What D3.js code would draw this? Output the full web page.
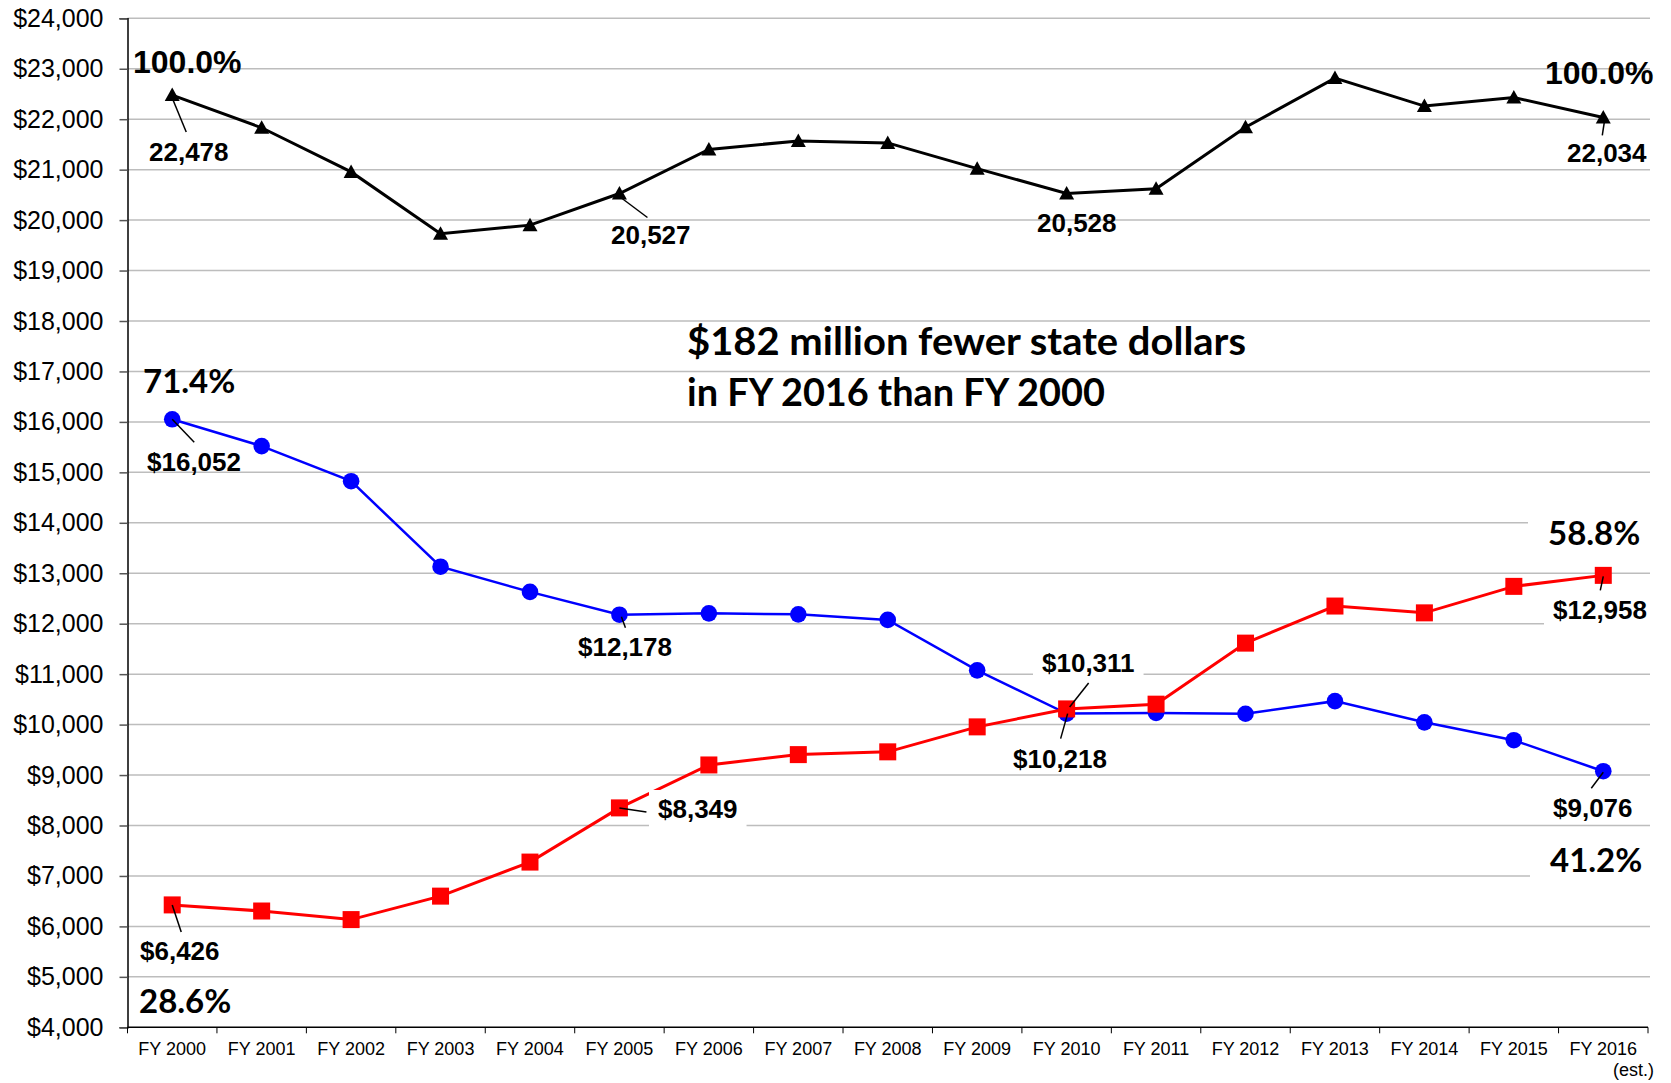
<!DOCTYPE html>
<html>
<head>
<meta charset="utf-8">
<script src="https://cdn.jsdelivr.net/npm/d3@7"></script>
<style>
  body { margin: 0; background: #fff; }
  svg { display: block; }
</style>
</head>
<body>
<svg id="chart"></svg>
<script>
// fiscal years on the x axis
var years = ["FY 2000","FY 2001","FY 2002","FY 2003","FY 2004","FY 2005","FY 2006","FY 2007","FY 2008",
             "FY 2009","FY 2010","FY 2011","FY 2012","FY 2013","FY 2014","FY 2015","FY 2016"];
// total (black triangles)
var total   = [22478, 21830, 20955, 19730, 19900, 20527, 21400, 21570, 21530, 21020, 20528, 20620, 21840, 22815, 22260, 22430, 22034];
// state dollars (blue circles)
var state   = [16052, 15520, 14825, 13130, 12630, 12178, 12205, 12185, 12075, 11075, 10218, 10230, 10215, 10465, 10045, 9690, 9076];
// tuition (red squares)
var tuition = [6426, 6305, 6135, 6600, 7275, 8349, 9200, 9405, 9460, 9955, 10311, 10405, 11615, 12350, 12215, 12740, 12958];
var yTicks  = d3.range(4000, 24001, 1000);
var titleLines = ["$182 million fewer state dollars", "in FY 2016 than FY 2000"];

var width = 1671, height = 1083;
var svg = d3.select("#chart").attr("width", width).attr("height", height);

var x = d3.scaleBand().domain(years).range([127.5, 1648]);
var y = d3.scaleLinear().domain([4000, 24000]).range([1027.3, 18.3]);
function cx(i){ return x(years[i]) + x.bandwidth() / 2; }

var arial = "'Liberation Sans', Arial, sans-serif";
var calibri = "Lato, 'Open Sans', sans-serif";

// gridlines
svg.append("g").selectAll("line").data(yTicks.slice(1)).enter().append("line")
	.attr("x1", 127.5).attr("x2", 1650)
	.attr("y1", function(d){return y(d)}).attr("y2", function(d){return y(d)})
	.style("stroke", "#bdbdbd").style("stroke-width", 1.5);

// y axis
var yAxis = svg.append("g").attr("transform", "translate(127.5,0)")
	.call(d3.axisLeft(y).tickValues(yTicks).tickSize(8).tickPadding(16).tickFormat(d3.format("$,")));
yAxis.select(".domain").style("stroke", "#000").style("stroke-width", 1.5);
yAxis.selectAll(".tick line").style("stroke", "#555").style("stroke-width", 1.5);
yAxis.selectAll("text").style("font-family", arial).style("font-size", "25px").style("fill", "#000");

// x axis: line, boundary ticks, labels
svg.append("line").attr("x1", 127.5).attr("x2", 1648).attr("y1", y(4000)).attr("y2", y(4000))
	.style("stroke", "#000").style("stroke-width", 1.5);
svg.append("g").selectAll("line").data(years.concat(["end"])).enter().append("line")
	.attr("x1", function(d, i){return 127.5 + i * x.bandwidth()})
	.attr("x2", function(d, i){return 127.5 + i * x.bandwidth()})
	.attr("y1", y(4000)).attr("y2", y(4000) + 6)
	.style("stroke", "#000").style("stroke-width", 1);
svg.append("g").selectAll("text").data(years).enter().append("text")
	.attr("x", function(d, i){return cx(i)}).attr("y", 1055)
	.attr("text-anchor", "middle")
	.style("font-family", arial).style("font-size", "18px")
	.text(function(d){return d});
svg.append("text").attr("x", 1654).attr("y", 1076).attr("text-anchor", "end")
	.style("font-family", arial).style("font-size", "18px").text("(est.)");

// series
var series = [
	{values: total,   color: "#000", width: 3,   marker: "tri"},
	{values: state,   color: "#0000ff", width: 2.5, marker: "circle"},
	{values: tuition, color: "#ff0000", width: 3,   marker: "square"}
];
var line = d3.line().x(function(d, i){return cx(i)}).y(function(d){return y(d)});
series.forEach(function(s){
	svg.append("path").datum(s.values).attr("d", line)
		.style("fill", "none").style("stroke", s.color).style("stroke-width", s.width);
	var g = svg.append("g");
	var pts = g.selectAll("g").data(s.values).enter().append("g")
		.attr("transform", function(d, i){return "translate(" + cx(i) + "," + y(d) + ")"});
	if (s.marker == "tri") pts.append("path").attr("d", "M0,-7.5L7.5,6L-7.5,6Z").style("fill", s.color);
	if (s.marker == "circle") pts.append("circle").attr("r", 8.3).style("fill", s.color);
	if (s.marker == "square") pts.append("rect").attr("x", -8.5).attr("y", -8.5).attr("width", 17).attr("height", 17).style("fill", s.color);
});

// data labels: series, index, text position, leader line offsets, background
var fmtN = d3.format(","), fmtD = d3.format("$,");
var labels = [
	{s: total, i: 0,  fmt: fmtN, x: 149,  y: 161, lead: [0, 3, 14, 37]},
	{s: total, i: 5,  fmt: fmtN, x: 611,  y: 244, lead: [0, 3, 28, 24]},
	{s: total, i: 10, fmt: fmtN, x: 1037, y: 232},
	{s: total, i: 16, fmt: fmtN, x: 1567, y: 162, lead: [1, 5, -1, 18]},
	{s: state, i: 0,  fmt: fmtD, x: 147,  y: 471, lead: [0, 0, 22, 23]},
	{s: state, i: 5,  fmt: fmtD, x: 578,  y: 656, lead: [2, 2, 6, 13]},
	{s: state, i: 10, fmt: fmtD, x: 1013, y: 768, lead: [1, 0, -6, 25]},
	{s: state, i: 16, fmt: fmtD, x: 1553, y: 817, lead: [0, 1, -12, 17]},
	{s: tuition, i: 0,  fmt: fmtD, x: 140,  y: 960, lead: [0, 0, 9, 27]},
	{s: tuition, i: 5,  fmt: fmtD, x: 658,  y: 818, lead: [0, 0, 27, 4], bg: 9},
	{s: tuition, i: 10, fmt: fmtD, x: 1042, y: 672, lead: [22, -26, 3, -2], bg: 9},
	{s: tuition, i: 16, fmt: fmtD, x: 1553, y: 619, lead: [0, 1, -3, 15], bg: 9}
];
var pcts = [
	{text: "100.0%", x: 133,  y: 73,  font: arial,   size: 32},
	{text: "100.0%", x: 1545, y: 84,  font: arial,   size: 32},
	{text: "71.4%",  x: 143,  y: 393, font: calibri, size: 33},
	{text: "28.6%",  x: 139,  y: 1013, font: calibri, size: 33},
	{text: "58.8%",  x: 1548, y: 545, font: calibri, size: 33, bg: 20},
	{text: "41.2%",  x: 1550, y: 872, font: calibri, size: 33, bg: 20}
];

var bgLayer = svg.append("g"), leadLayer = svg.append("g"), textLayer = svg.append("g");

function addText(t, x0, y0, font, size, bg){
	var el = textLayer.append("text").attr("x", x0).attr("y", y0)
		.style("font-family", font).style("font-size", size + "px").style("font-weight", "bold")
		.style("fill", "#000").text(t);
	if (bg) {
		var b = el.node().getBBox();
		bgLayer.append("rect").attr("x", b.x - bg).attr("y", b.y - 4)
			.attr("width", b.width + 2 * bg).attr("height", b.height + 8).style("fill", "#fff");
	}
}

labels.forEach(function(l){
	var px = cx(l.i), py = y(l.s[l.i]);
	if (l.lead) leadLayer.append("line")
		.attr("x1", px + l.lead[0]).attr("y1", py + l.lead[1])
		.attr("x2", px + l.lead[2]).attr("y2", py + l.lead[3])
		.style("stroke", "#000").style("stroke-width", 1.5);
	addText(l.fmt(l.s[l.i]), l.x, l.y, arial, 26, l.bg);
});
pcts.forEach(function(p){ addText(p.text, p.x, p.y, p.font, p.size, p.bg); });

// headline, stretched to the widths of the original lines
var titleWidths = [559, 418];
titleLines.forEach(function(t, k){
	textLayer.append("text").attr("x", 687).attr("y", 355 + k * 51)
		.attr("textLength", titleWidths[k]).attr("lengthAdjust", "spacingAndGlyphs")
		.style("font-family", calibri).style("font-size", "39px").style("font-weight", "bold")
		.text(t);
});
</script>
</body>
</html>
